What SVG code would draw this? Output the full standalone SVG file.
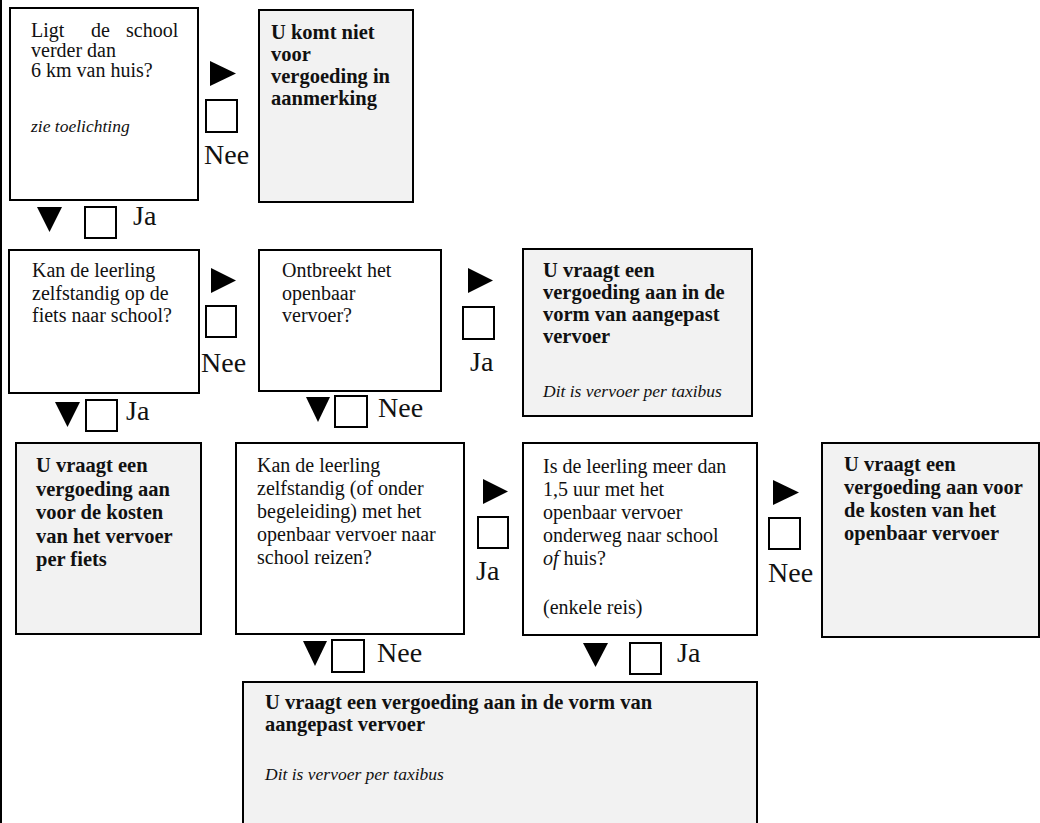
<svg xmlns="http://www.w3.org/2000/svg" width="1040" height="823" viewBox="0 0 1040 823">
<style>
.box{stroke:#000;stroke-width:2;fill:#fff}
.grey{fill:#f2f2f2}
.t{font-family:"Liberation Serif","Times New Roman",serif;font-size:20px;fill:#111}
.b{font-weight:bold;font-size:20.5px}
.i{font-style:italic;font-size:17.5px}
.lbl{font-family:"Liberation Serif","Times New Roman",serif;font-size:28px;fill:#111}
.chk{fill:#fff;stroke:#000;stroke-width:2}
.tri{fill:#000}
</style>
<rect width="1040" height="823" fill="#fff"/>
<line x1="1" y1="0" x2="1" y2="823" stroke="#000" stroke-width="2"/>

<g id="n1">
<rect class="box" x="10" y="8" width="188" height="192"/>
<text class="t"><tspan x="31" y="37">Ligt</tspan><tspan x="91" y="37">de</tspan><tspan x="126" y="37">school</tspan><tspan x="31" y="57">verder dan</tspan><tspan x="31" y="77">6 km van huis?</tspan></text>
<text class="t i" x="31" y="132">zie toelichting</text>
</g>

<g id="n2">
<rect class="box grey" x="259" y="10" width="154" height="192"/>
<text class="t b"><tspan x="271" y="39">U komt niet</tspan><tspan x="271" y="61">voor</tspan><tspan x="271" y="83">vergoeding in</tspan><tspan x="271" y="105">aanmerking</tspan></text>
</g>

<g id="n3">
<rect class="box" x="9" y="250" width="190" height="143"/>
<text class="t"><tspan x="32" y="277">Kan de leerling</tspan><tspan x="32" y="300">zelfstandig op de</tspan><tspan x="32" y="322">fiets naar school?</tspan></text>
</g>

<g id="n4">
<rect class="box" x="259" y="250" width="182" height="141"/>
<text class="t"><tspan x="282" y="277">Ontbreekt het</tspan><tspan x="282" y="300">openbaar</tspan><tspan x="282" y="322">vervoer?</tspan></text>
</g>

<g id="n5">
<rect class="box grey" x="523" y="249" width="229" height="167"/>
<text class="t b"><tspan x="543" y="277">U vraagt een</tspan><tspan x="543" y="299">vergoeding aan in de</tspan><tspan x="543" y="321">vorm van aangepast</tspan><tspan x="543" y="343">vervoer</tspan></text>
<text class="t i" x="543" y="397">Dit is vervoer per taxibus</text>
</g>

<g id="n6">
<rect class="box grey" x="16" y="443" width="185" height="191"/>
<text class="t b"><tspan x="36" y="472">U vraagt een</tspan><tspan x="36" y="496">vergoeding aan</tspan><tspan x="36" y="519">voor de kosten</tspan><tspan x="36" y="543">van het vervoer</tspan><tspan x="36" y="566">per fiets</tspan></text>
</g>

<g id="n7">
<rect class="box" x="236" y="443" width="228" height="191"/>
<text class="t"><tspan x="257" y="472">Kan de leerling</tspan><tspan x="257" y="495">zelfstandig (of onder</tspan><tspan x="257" y="518">begeleiding) met het</tspan><tspan x="257" y="541">openbaar vervoer naar</tspan><tspan x="257" y="564">school reizen?</tspan></text>
</g>

<g id="n8">
<rect class="box" x="523" y="443" width="234" height="192"/>
<text class="t"><tspan x="543" y="473">Is de leerling meer dan</tspan><tspan x="543" y="496">1,5 uur met het</tspan><tspan x="543" y="519">openbaar vervoer</tspan><tspan x="543" y="542">onderweg naar school</tspan><tspan x="543" y="565"><tspan font-style="italic">of</tspan> huis?</tspan><tspan x="543" y="614">(enkele reis)</tspan></text>
</g>

<g id="n9">
<rect class="box grey" x="822" y="443" width="217" height="194"/>
<text class="t b"><tspan x="844" y="471">U vraagt een</tspan><tspan x="844" y="494">vergoeding aan voor</tspan><tspan x="844" y="517">de kosten van het</tspan><tspan x="844" y="540">openbaar vervoer</tspan></text>
</g>

<g id="n10">
<rect class="box grey" x="243" y="682" width="514" height="160"/>
<text class="t b"><tspan x="265" y="709">U vraagt een vergoeding aan in de vorm van</tspan><tspan x="265" y="731">aangepast vervoer</tspan></text>
<text class="t i" x="265" y="780">Dit is vervoer per taxibus</text>
</g>

<g id="connectors">
<g id="c1-2">
<polygon class="tri" points="210,61 236,73.5 210,86"/>
<rect class="chk" x="206" y="100" width="31" height="32"/>
<text class="lbl" x="204" y="164">Nee</text>
</g>
<g id="c1-3">
<polygon class="tri" points="37,207 62,207 49.5,232"/>
<rect class="chk" x="85" y="207" width="31" height="31"/>
<text class="lbl" x="133" y="225">Ja</text>
</g>
<g id="c3-4">
<polygon class="tri" points="211,268 236,280.5 211,293"/>
<rect class="chk" x="206" y="306" width="30" height="31"/>
<text class="lbl" x="201" y="372">Nee</text>
</g>
<g id="c3-6">
<polygon class="tri" points="55,402 80,402 67.5,427"/>
<rect class="chk" x="86" y="400" width="31" height="31"/>
<text class="lbl" x="126" y="420">Ja</text>
</g>
<g id="c4-5">
<polygon class="tri" points="468,268 493,280.5 468,293"/>
<rect class="chk" x="463" y="307" width="31" height="32"/>
<text class="lbl" x="470" y="371">Ja</text>
</g>
<g id="c4-7">
<polygon class="tri" points="306,397 330,397 318,422"/>
<rect class="chk" x="335" y="396" width="32" height="31"/>
<text class="lbl" x="378" y="417">Nee</text>
</g>
<g id="c7-8">
<polygon class="tri" points="483,479 508,491.5 483,504"/>
<rect class="chk" x="478" y="517" width="30" height="31"/>
<text class="lbl" x="476" y="580">Ja</text>
</g>
<g id="c7-10">
<polygon class="tri" points="303,641 327,641 315,666"/>
<rect class="chk" x="332" y="640" width="32" height="32"/>
<text class="lbl" x="377" y="662">Nee</text>
</g>
<g id="c8-9">
<polygon class="tri" points="773,480 799,492.5 773,505"/>
<rect class="chk" x="769" y="518" width="31" height="31"/>
<text class="lbl" x="768" y="582">Nee</text>
</g>
<g id="c8-10">
<polygon class="tri" points="583,643 608,643 595.5,667"/>
<rect class="chk" x="630" y="643" width="31" height="31"/>
<text class="lbl" x="677" y="662">Ja</text>
</g>
</g>
</svg>
